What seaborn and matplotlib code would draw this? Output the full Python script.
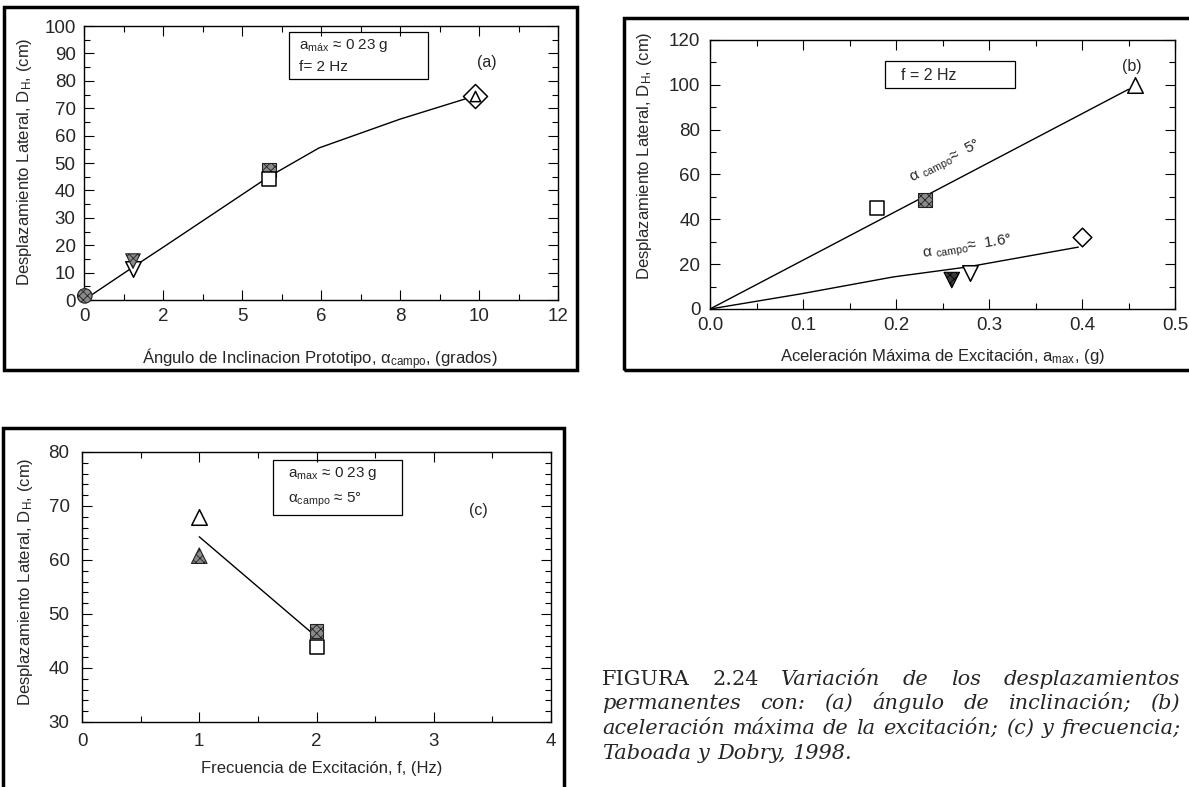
import seaborn as sns
import matplotlib.pyplot as plt
from matplotlib.patches import Rectangle
from matplotlib.ticker import MultipleLocator, FixedLocator, FixedFormatter

# -----------------------------------------------------------------------------
# Values (Taboada y Dobry, 1998)
# -----------------------------------------------------------------------------

# (a) lateral displacement vs prototype slope angle
a_angle = [0.02, 1.24, 1.24, 4.68, 4.68, 9.9, 9.9]
a_disp = [1.5, 11.3, 14.2, 47.4, 44.3, 74.5, 74.5]
a_marker = ["o", "v", "v", "s", "s", "D", "^"]
a_style = ["hatch", "open", "hatch", "hatch", "open", "open", "open"]
a_curve_x = [0, 1.24, 2.05, 4.68, 5.95, 8.0, 9.9]
a_curve_y = [0, 12, 19.7, 45, 55.5, 66, 74.5]
a_xticks = [0, 2, 4, 6, 8, 10, 12]
a_xticklabels = ["0", "2", "5", "6", "8", "10", "12"]

# (b) lateral displacement vs peak acceleration
b_acc = [0.18, 0.231, 0.457, 0.40, 0.26, 0.28]
b_disp = [45, 48.6, 100, 32, 12.9, 16]
b_marker = ["s", "s", "^", "D", "v", "v"]
b_style = ["open", "hatch", "open", "open", "dark", "open"]
b_line5_x = [0, 0.45]
b_line5_y = [0, 98]
b_line16_x = [0, 0.097, 0.197, 0.276, 0.396]
b_line16_y = [0, 6.7, 14.3, 18.7, 27.6]

# (c) lateral displacement vs excitation frequency
c_freq = [1, 1, 2, 2]
c_disp = [68, 60.8, 46.8, 43.8]
c_marker = ["^", "^", "s", "s"]
c_style = ["open", "hatch", "hatch", "open"]
c_line_x = [1, 1.96]
c_line_y = [64.3, 46.5]

caption_lines = [
    [("FIGURA", "normal"), ("2.24", "normal"), ("Variación", "italic"),
     ("de", "italic"), ("los", "italic"), ("desplazamientos", "italic")],
    [("permanentes", "italic"), ("con:", "italic"), ("(a)", "italic"),
     ("ángulo", "italic"), ("de", "italic"), ("inclinación;", "italic"), ("(b)", "italic")],
    [("aceleración", "italic"), ("máxima", "italic"), ("de", "italic"), ("la", "italic"),
     ("excitación;", "italic"), ("(c)", "italic"), ("y", "italic"), ("frecuencia;", "italic")],
    [("Taboada", "italic"), ("y", "italic"), ("Dobry,", "italic"), ("1998.", "italic")],
]

# -----------------------------------------------------------------------------
# Style
# -----------------------------------------------------------------------------

sns.set_style("ticks")
plt.rcParams["font.family"] = ["Liberation Sans", "DejaVu Sans"]
plt.rcParams["mathtext.fontset"] = "custom"
plt.rcParams["mathtext.rm"] = "Liberation Sans"
plt.rcParams["mathtext.it"] = "Liberation Sans:italic"
plt.rcParams["hatch.linewidth"] = 0.6

MARK = {
    "open": dict(color="white", edgecolor="black", linewidth=1.1),
    "hatch": dict(color="#8a8a8a", edgecolor="#222222", linewidth=0.8, hatch="xxxx"),
    "dark": dict(color="#3a3a3a", edgecolor="black", linewidth=0.8, hatch="xxxx"),
}
SIZE = {"o": 110, "s": 100, "v": 125, "^": 125, "D": 90}

W, H = 1189, 787
fig = plt.figure(figsize=(W / 100, H / 100), dpi=100)


def rect(l, t, r, b):
    return [l / W, 1 - b / H, (r - l) / W, (b - t) / H]


def frame(l, t, r, b):
    fig.patches.append(Rectangle((l / W, 1 - b / H), (r - l) / W, (b - t) / H,
                                 transform=fig.transFigure, fill=False,
                                 lw=2.5, edgecolor="black"))


def points(ax, xs, ys, markers, styles, sizes=None):
    sizes = sizes or [SIZE[m] for m in markers]
    for x, y, m, st, s in zip(xs, ys, markers, styles, sizes):
        sns.scatterplot(x=[x], y=[y], marker=m, s=s, ax=ax, zorder=3,
                        clip_on=False, **MARK[st])


def style_axes(ax, xpad, ypad):
    ax.tick_params(which="both", direction="in", top=True, right=True,
                   labelsize=13.5, width=0.8, color="black")
    ax.tick_params(which="major", length=7)
    ax.tick_params(which="minor", length=4)
    ax.tick_params(axis="x", pad=xpad)
    ax.tick_params(axis="y", pad=ypad)
    for sp in ax.spines.values():
        sp.set_linewidth(1.0)
        sp.set_color("black")


frame(4, 7, 577, 370)
frame(624, 18, 1195, 370)
frame(3, 428, 564, 795)

ylab = r"Desplazamiento Lateral, D$_\mathregular{H}$, (cm)"
LAB = 12

# ---------------------------------- (a) --------------------------------------
ax = fig.add_axes(rect(84, 26, 558, 300))
sns.lineplot(x=a_curve_x, y=a_curve_y, ax=ax, color="black", lw=1.0,
             sort=False, estimator=None)
points(ax, a_angle, a_disp, a_marker, a_style,
       sizes=[110, 125, 110, 100, 100, 150, 55])
ax.set_xlim(0, 12)
ax.set_ylim(0, 100)
ax.xaxis.set_major_locator(FixedLocator(a_xticks))
ax.xaxis.set_major_formatter(FixedFormatter(a_xticklabels))
ax.xaxis.set_minor_locator(MultipleLocator(1))
ax.yaxis.set_major_locator(MultipleLocator(10))
ax.yaxis.set_minor_locator(MultipleLocator(5))
style_axes(ax, 6, 6)
ax.set_xlabel(r"Ángulo de Inclinacion Prototipo, α$_\mathregular{campo}$, (grados)",
              fontsize=LAB)
ax.set_ylabel(ylab, fontsize=LAB)
ax.xaxis.set_label_coords(0.498, -0.17)
ax.yaxis.set_label_coords(-0.105, 0.503)
ax.add_patch(Rectangle((5.2, 80.6), 3.5, 17.2, fill=False, lw=0.9, edgecolor="black"))
ax.text(5.45, 92.8, r"a$_\mathregular{máx}$ ≈ 0 23 g", fontsize=11, va="center")
ax.text(5.45, 85.2, "f= 2 Hz", fontsize=11, va="center")
ax.text(10.2, 86.8, "(a)", fontsize=11.5, ha="center", va="center")

# ---------------------------------- (b) --------------------------------------
ax = fig.add_axes(rect(710, 40, 1175, 309))
sns.lineplot(x=b_line5_x, y=b_line5_y, ax=ax, color="black", lw=1.0,
             sort=False, estimator=None)
sns.lineplot(x=b_line16_x, y=b_line16_y, ax=ax, color="black", lw=1.0,
             sort=False, estimator=None)
points(ax, b_acc, b_disp, b_marker, b_style)
ax.set_xlim(0, 0.5)
ax.set_ylim(0, 120)
ax.xaxis.set_major_locator(MultipleLocator(0.1))
ax.xaxis.set_minor_locator(MultipleLocator(0.05))
ax.xaxis.set_major_formatter(lambda v, p: f"{v:.1f}")
ax.yaxis.set_major_locator(MultipleLocator(20))
ax.yaxis.set_minor_locator(MultipleLocator(10))
style_axes(ax, 6, 7)
ax.set_xlabel(r"Aceleración Máxima de Excitación, a$_\mathregular{max}$, (g)",
              fontsize=LAB)
ax.set_ylabel(ylab, fontsize=LAB)
ax.xaxis.set_label_coords(0.50, -0.14)
ax.yaxis.set_label_coords(-0.12, 0.57)
ax.add_patch(Rectangle((0.188, 98.6), 0.14, 12.0, fill=False, lw=0.9, edgecolor="black"))
ax.text(0.205, 104.3, "f = 2 Hz", fontsize=11.5, va="center")
ax.text(0.454, 108, "(b)", fontsize=11.5, ha="center", va="center")
ax.text(0.217, 56.5, r"α $_\mathregular{campo}$≈  5°", fontsize=11,
        rotation=27, rotation_mode="anchor")
ax.text(0.229, 22.8, r"α $_\mathregular{campo}$≈  1.6°", fontsize=11,
        rotation=9, rotation_mode="anchor")

# ---------------------------------- (c) --------------------------------------
ax = fig.add_axes(rect(82, 452, 551, 722))
sns.lineplot(x=c_line_x, y=c_line_y, ax=ax, color="black", lw=1.0,
             sort=False, estimator=None)
points(ax, c_freq, c_disp, c_marker, c_style)
ax.set_xlim(0, 4)
ax.set_ylim(30, 80)
ax.xaxis.set_major_locator(MultipleLocator(1))
ax.xaxis.set_minor_locator(MultipleLocator(0.5))
ax.yaxis.set_major_locator(MultipleLocator(10))
ax.yaxis.set_minor_locator(MultipleLocator(2))
style_axes(ax, 8, 9)
ax.set_xlabel("Frecuencia de Excitación, f, (Hz)", fontsize=LAB)
ax.set_ylabel(ylab, fontsize=LAB)
ax.xaxis.set_label_coords(0.51, -0.145)
ax.yaxis.set_label_coords(-0.1, 0.52)
ax.add_patch(Rectangle((1.63, 68.4), 1.1, 10.1, fill=False, lw=0.9, edgecolor="black"))
ax.text(1.76, 76.0, r"a$_\mathregular{max}$ ≈ 0 23 g", fontsize=11, va="center")
ax.text(1.76, 71.2, r"α$_\mathregular{campo}$ ≈ 5°", fontsize=11, va="center")
ax.text(3.38, 69.1, "(c)", fontsize=11.5, ha="center", va="center")

# -------------------------------- caption ------------------------------------
renderer = fig.canvas.get_renderer()
x0, x1 = 602, 1180
baselines = [685, 709, 734, 759]
for i, (words, yb) in enumerate(zip(caption_lines, baselines)):
    items = [fig.text(0, 1 - yb / H, w, fontsize=15, style=st,
                      family="DejaVu Serif", va="baseline", ha="left")
             for w, st in words]
    widths = [t.get_window_extent(renderer).width for t in items]
    last = i == len(caption_lines) - 1
    gap = 7 if last else (x1 - x0 - sum(widths)) / (len(items) - 1)
    x = x0
    for t, w in zip(items, widths):
        t.set_x(x / W)
        x += w + gap

plt.savefig("out.png", dpi=100)
plt.close()
